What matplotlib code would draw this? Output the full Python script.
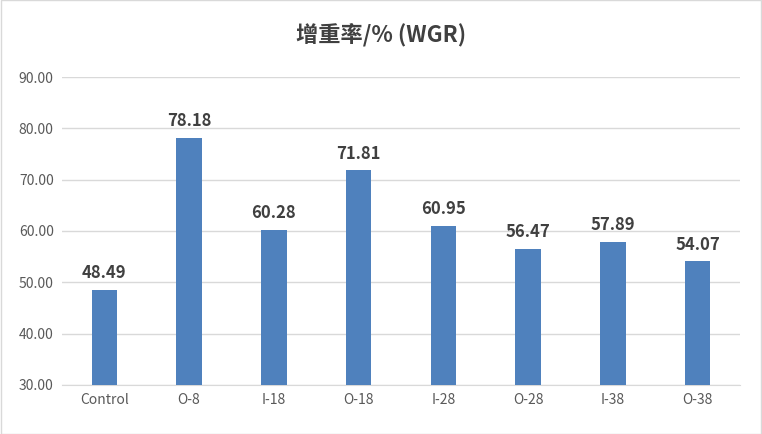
import matplotlib.pyplot as plt
import numpy as np

plt.rcParams['font.family'] = ['Noto Sans CJK SC', 'DejaVu Sans']

categories = ['Control', 'O-8', 'I-18', 'O-18', 'I-28', 'O-28', 'I-38', 'O-38']
wgr = [48.49, 78.18, 60.28, 71.81, 60.95, 56.47, 57.89, 54.07]
yticks = [30, 40, 50, 60, 70, 80, 90]

fig = plt.figure(figsize=(7.62, 4.34), dpi=100)
ax = fig.add_axes([62/762, 1-385/434, (740-62)/762, (385-77)/434])

x = np.arange(len(categories))
ax.bar(x, wgr, width=0.3, color='#4F81BD', zorder=3)
for xi, v in zip(x, wgr):
    ax.text(xi, v + 1.5, '%.2f' % v, ha='center', va='bottom',
            fontsize=12, fontweight='bold', color='#404040')

ax.set_ylim(30, 90)
ax.set_xlim(-0.5, len(categories) - 0.5)
ax.set_yticks(yticks)
ax.set_yticklabels(['%.2f' % t for t in yticks], fontsize=10, color='#595959')
ax.set_xticks(x)
ax.set_xticklabels(categories, fontsize=10, color='#595959')
ax.tick_params(length=0, pad=6)
ax.grid(axis='y', color='#D9D9D9', linewidth=1, zorder=0)
for s in ['top', 'right', 'left']:
    ax.spines[s].set_visible(False)
ax.spines['bottom'].set_color('#D9D9D9')

fig.text(0.5, 1-35/434, '增重率/% (WGR)', ha='center', va='center',
         fontsize=16, fontweight='bold', color='#404040')
fig.patches.append(plt.Rectangle((0.001, 0.001), 0.998, 0.998, transform=fig.transFigure,
                                 fill=False, edgecolor='#D9D9D9', linewidth=1))

fig.savefig('out.png', dpi=100)
